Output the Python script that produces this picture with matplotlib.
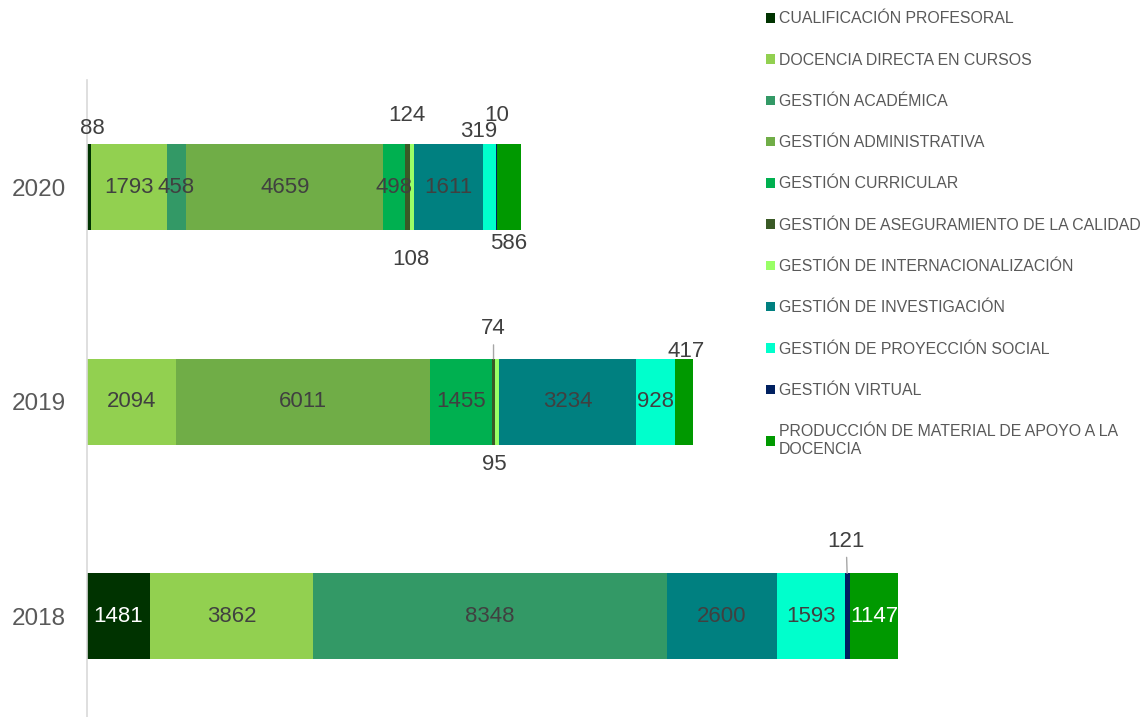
import numpy as np
import matplotlib
matplotlib.use('Agg')
import matplotlib.pyplot as plt
from matplotlib.patches import Patch

plt.rcParams['font.family'] = ['Liberation Sans', 'DejaVu Sans']

years = ['2018', '2019', '2020']
series = ['CUALIFICACIÓN PROFESORAL', 'DOCENCIA DIRECTA EN CURSOS', 'GESTIÓN ACADÉMICA',
          'GESTIÓN ADMINISTRATIVA', 'GESTIÓN CURRICULAR', 'GESTIÓN DE ASEGURAMIENTO DE LA CALIDAD',
          'GESTIÓN DE INTERNACIONALIZACIÓN', 'GESTIÓN DE INVESTIGACIÓN',
          'GESTIÓN DE PROYECCIÓN SOCIAL', 'GESTIÓN VIRTUAL',
          'PRODUCCIÓN DE MATERIAL DE APOYO A LA\nDOCENCIA']
# values per series, order: 2018, 2019, 2020 (0 = no bar)
cualificacion = [1481, 0, 88]
docencia = [3862, 2094, 1793]
academica = [8348, 0, 458]
administrativa = [0, 6011, 4659]
curricular = [0, 1455, 498]
aseguramiento = [0, 74, 124]
internacional = [0, 95, 108]
investigacion = [2600, 3234, 1611]
proyeccion = [1593, 928, 319]
virtual = [121, 0, 10]
produccion = [1147, 417, 586]

values = [cualificacion, docencia, academica, administrativa, curricular, aseguramiento,
          internacional, investigacion, proyeccion, virtual, produccion]
colors = ['#003300', '#92D050', '#339966', '#70AD47', '#00B050', '#3A5A26',
          '#99FF66', '#008080', '#00FFCC', '#002060', '#009900']
label_colors = ['white', '#404040', '#404040', '#404040', '#404040', '#404040',
                '#404040', '#404040', '#404040', '#404040', 'white']

# label offsets (px) for small segments: (series idx, year idx) -> (dx, dy, leader)
offsets = {
    (0, 2): (4, 59, False),
    (5, 2): (0, 72, False),
    (6, 2): (-1, -72, False),
    (8, 2): (-11, 56, False),
    (9, 2): (0, 72, False),
    (10, 2): (0, -56, False),
    (5, 1): (0, 30, True),
    (6, 1): (-3, -63, False),
    (10, 1): (2, 50, False),
    (9, 0): (-1, 32, True),
}

fig = plt.figure(figsize=(11.46, 7.17), dpi=100)
ax = fig.add_axes([87 / 1146, 0, 1059 / 1146, 637 / 717])
h = 0.4
y = np.arange(len(years))
left = np.zeros(len(years))
px = 0.72  # px -> points at dpi 100
for s, (vals, c) in enumerate(zip(values, colors)):
    vals = np.array(vals, dtype=float)
    ax.barh(y, vals, left=left, height=h, color=c, label=series[s], linewidth=0)
    for i, v in enumerate(vals):
        if v == 0:
            continue
        cx = left[i] + v / 2
        key = (s, i)
        if key in offsets:
            dx, dy, leader = offsets[key]
            if leader:
                ax.annotate(f'{int(v)}', xy=(cx, i + h / 2), xytext=(dx * px, dy * px),
                            textcoords='offset points', ha='center', va='center',
                            fontsize=16, color='#404040',
                            arrowprops=dict(arrowstyle='-', color='#a6a6a6', lw=1,
                                            shrinkA=2, shrinkB=0))
            else:
                ax.annotate(f'{int(v)}', xy=(cx, i), xytext=(dx * px, dy * px),
                            textcoords='offset points', ha='center', va='center',
                            fontsize=16, color='#404040')
        else:
            ax.text(cx, i, f'{int(v)}', ha='center', va='center', fontsize=16,
                    color=label_colors[s])
    left += vals

ax.set_xlim(0, 25000)
ax.set_ylim(-0.47, 2.5)
ax.set_yticks(y)
ax.set_yticklabels(years, fontsize=17.5, color='#595959')
ax.set_xticks([])
ax.tick_params(axis='y', length=0, pad=15)
for sp in ['top', 'right', 'bottom']:
    ax.spines[sp].set_visible(False)
ax.spines['left'].set_color('#d9d9d9')
ax.spines['left'].set_linewidth(1.2)
ax.patch.set_alpha(0)

handles = [Patch(facecolor=c, edgecolor='none') for c in colors]
fig.legend(handles, series, loc='upper left', bbox_to_anchor=(760 / 1146, 1 - 5 / 717),
           frameon=False, fontsize=11.4, labelcolor='#595959', handlelength=0.55,
           handleheight=0.55, handletextpad=0.25, labelspacing=1.66, borderaxespad=0)

fig.savefig('out.png', dpi=100)
